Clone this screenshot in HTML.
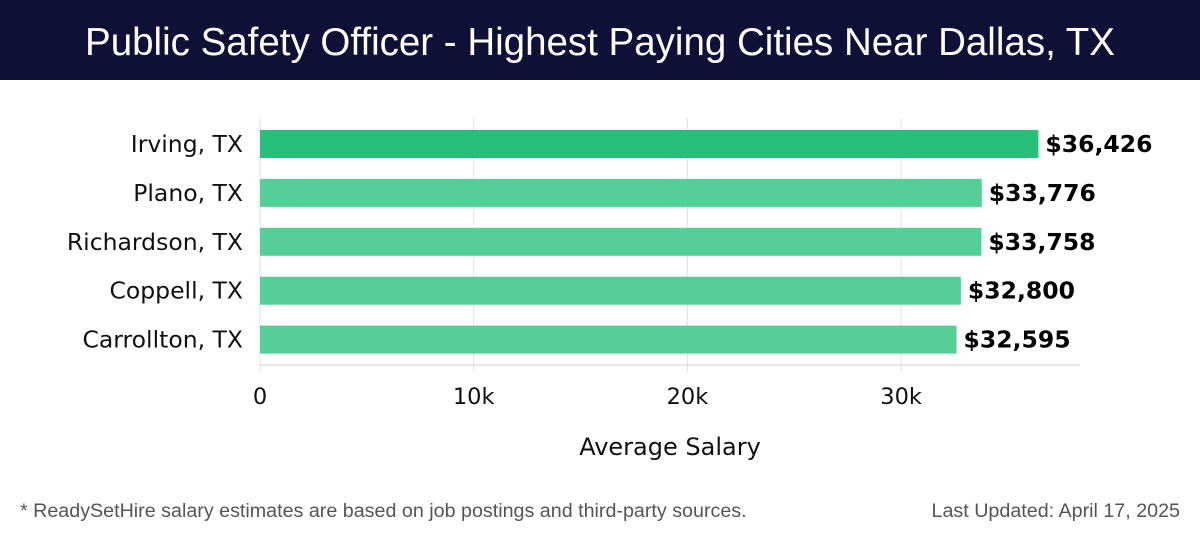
<!DOCTYPE html>
<html><head><meta charset="utf-8"><style>
body{margin:0;width:1200px;height:540px;background:#fff;font-family:"DejaVu Sans","Liberation Sans",sans-serif;overflow:hidden}
#title{position:absolute;left:0;top:0;width:1200px;height:80px;background:#0f1035;color:#fff;font-size:38.5px;font-weight:300;text-align:center;line-height:86px;font-family:"Liberation Sans",sans-serif}
.foot{position:absolute;top:500px;font-size:19.7px;color:#555;font-family:"Liberation Sans",sans-serif}
</style></head><body>
<div id="title">Public Safety Officer - Highest Paying Cities Near Dallas, TX</div>
<svg id="chart" width="1200" height="540" style="position:absolute;left:0;top:0"></svg>
<div class="foot" style="left:20px">* ReadySetHire salary estimates are based on job postings and third-party sources.</div>
<div class="foot" style="right:20px">Last Updated: April 17, 2025</div>
<script>
const categories=["Irving, TX","Plano, TX","Richardson, TX","Coppell, TX","Carrollton, TX"];
const salaries=[36426,33776,33758,32800,32595];
const ticks=[0,10000,20000,30000];
const tickLabels=["0","10k","20k","30k"];
const svg=document.getElementById('chart');
const NS='http://www.w3.org/2000/svg';
const x0=260,pxPer=213.7/10000;
const xs=v=>x0+v*pxPer;
const ys=i=>130+i*48.9;
function mk(t,a,txt){const e=document.createElementNS(NS,t);for(const k in a)e.setAttribute(k,a[k]);if(txt!==undefined)e.textContent=txt;svg.appendChild(e);return e;}
ticks.forEach((t,i)=>{
 const g=mk('line',{x1:xs(t),x2:xs(t),y1:118,y2:372,stroke:'#e2e2e2','stroke-width':1});
 
 
 const l=mk('text',{x:xs(t),y:404,'text-anchor':'middle','font-size':22.5,fill:'#111'},tickLabels[i]);
 
 
});
const ax=mk('line',{x1:260,x2:1080,y1:365,y2:365,stroke:'#ccc','stroke-width':1});


categories.forEach((c,i)=>{
 const y=ys(i);
 const b=mk('rect',{x:x0,y:y,width:xs(salaries[i])-x0,height:28,fill:i===0?'#27c07a':'#55cf97'});
 
 
 const l=mk('text',{x:243,y:y+22,'text-anchor':'end','font-size':23.5,fill:'#111'},c);
 
 
 const v=mk('text',{x:xs(salaries[i])+7,y:y+22,'font-size':23.5,'font-weight':'bold',fill:'#000'},'$'+salaries[i].toLocaleString('en-US'));
 
 
});
const at=mk('text',{x:670,y:455,'text-anchor':'middle','font-size':24,fill:'#111'},'Average Salary');


</script>
</body></html>
